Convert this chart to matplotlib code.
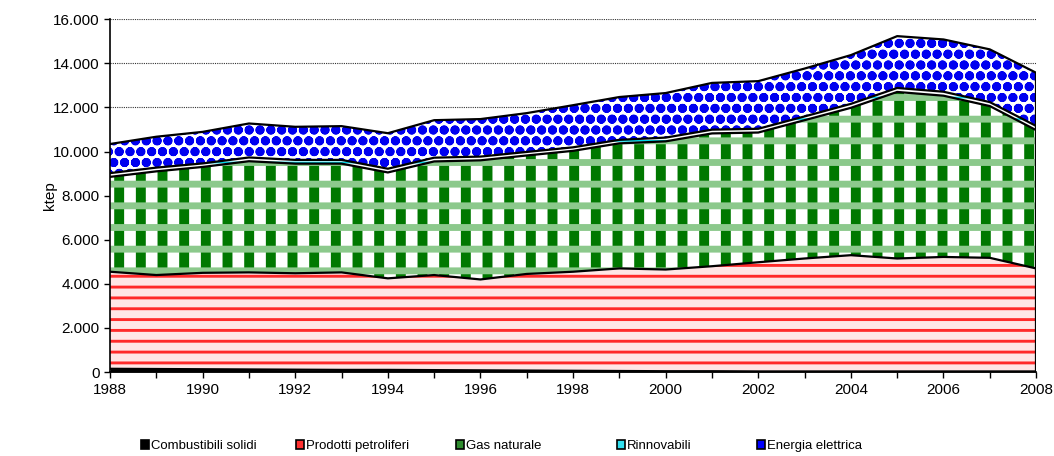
import numpy as np
import matplotlib
matplotlib.use("Agg")
from matplotlib import pyplot as plt
from matplotlib.patches import Patch
from matplotlib.ticker import FuncFormatter, MultipleLocator

plt.rcParams['font.family'] = ['Liberation Sans', 'DejaVu Sans']

# dpi 130 makes matplotlib's hatch spacing match the ~11/22 px tiles of the original
DPI = 130
S = 100 / DPI   # sizes below were tuned in "points at 100 dpi"

years = np.arange(1988, 2009)

# ktep
combustibili_solidi = [150, 140, 130, 120, 110, 100, 100, 90, 80, 70, 60,
                       50, 40, 40, 30, 30, 30, 30, 30, 30, 30]
prodotti_petroliferi_top = [4550, 4400, 4500, 4520, 4480, 4520, 4250, 4400, 4200, 4450, 4550,
                            4700, 4650, 4800, 4980, 5150, 5300, 5150, 5220, 5180, 4700]
gas_naturale_top = [8850, 9100, 9300, 9560, 9450, 9450, 9050, 9550, 9600, 9820, 10030,
                    10370, 10460, 10820, 10860, 11420, 11980, 12700, 12530, 12060, 10970]
rinnovabili = [170, 170, 160, 170, 170, 170, 170, 170, 170, 160, 160,
               160, 170, 170, 170, 170, 180, 180, 180, 180, 190]
totale = [10340, 10670, 10890, 11270, 11120, 11150, 10830, 11420, 11470, 11740, 12100,
          12470, 12650, 13110, 13190, 13760, 14370, 15230, 15080, 14630, 13570]

solidi = np.array(combustibili_solidi)
petroliferi = np.array(prodotti_petroliferi_top) - solidi
gas = np.array(gas_naturale_top) - np.array(prodotti_petroliferi_top)
rinn = np.array(rinnovabili)
elettrica = np.array(totale) - np.array(gas_naturale_top) - rinn

labels = ["Combustibili solidi", "Prodotti petroliferi", "Gas naturale",
          "Rinnovabili", "Energia elettrica"]
layers = [solidi, petroliferi, gas, rinn, elettrica]
faces = ["#000000", "#ffe6e6", "#ffffff", "#ffffff", "#ffffff"]
hatch_cols = ["#000000", "#ff2a2a", "#007800", "#00d8e8", "#0000f0"]
hatches = [None, "--", "|", "-", "oo"]
hatch_lw = [1.0, 1.6, 5.5, 1.0, 2.6]  # points
# second pattern on top of the first: (hatch, colour, width)
overlay = [None, None, ("-", "#8cc98c", 3.8), None, None]
legend_cols = ["#000000", "#ff3030", "#2e8b2e", "#30e0f0", "#0000ff"]

fig = plt.figure(figsize=(1054 / DPI, 456 / DPI), dpi=DPI)
ax = fig.add_axes([0.1044, 0.184, 0.8786, 0.774])

ax.yaxis.grid(True, color="#333333", linestyle=(0, (1, 1)), linewidth=0.8 * S)
ax.set_axisbelow(True)


def hatched(lo, hi, fc, hc, h, hl, z):
    poly = ax.fill_between(years, lo, hi, facecolor=fc, edgecolor=hc, hatch=h,
                           linewidth=0, zorder=z)
    poly.set_hatch_linewidth(hl)
    return poly


bottom = np.zeros(len(years))
for vals, fc, hc, h, hl, ov in zip(layers, faces, hatch_cols, hatches, hatch_lw, overlay):
    top = bottom + vals
    hatched(bottom, top, fc, hc, h, hl, 2)
    if ov is not None:
        hatched(bottom, top, "none", ov[1], ov[0], ov[2], 2.1)
    ax.plot(years, top, color="black", linewidth=1.6 * S, zorder=3)
    bottom = top
ax.vlines(years[-1], 0, bottom[-1], color="black", linewidth=1.6 * S, zorder=3)

ax.set_xlim(1988, 2008)
ax.set_ylim(0, 16000)
ax.xaxis.set_major_locator(MultipleLocator(2))
ax.xaxis.set_minor_locator(MultipleLocator(1))
ax.yaxis.set_major_locator(MultipleLocator(2000))
ax.yaxis.set_major_formatter(FuncFormatter(lambda v, p: f"{int(v):,}".replace(",", ".")))
ax.tick_params(axis="both", labelsize=11 * S, length=4 * S, width=1 * S,
               pad=3.5 * S, direction="out")
ax.tick_params(axis="x", which="minor", length=4 * S, width=1 * S, direction="out")
for s in ["top", "right"]:
    ax.spines[s].set_visible(False)
for s in ["left", "bottom"]:
    ax.spines[s].set_linewidth(1.2 * S)
ax.set_ylabel("ktep", fontsize=11 * S, labelpad=-3 * S)

legend_x = [0.134, 0.281, 0.433, 0.585, 0.718]
for col, lab, lx in zip(legend_cols, labels, legend_x):
    handle = Patch(facecolor=col, edgecolor="black", linewidth=1.2 * S)
    fig.legend(handles=[handle], labels=[lab], loc="center left",
               bbox_to_anchor=(lx, 0.022), frameon=False, fontsize=9.5 * S,
               handlelength=0.6, handleheight=0.6, handletextpad=0.15,
               borderpad=0, borderaxespad=0)

fig.savefig("out.png", dpi=DPI)
